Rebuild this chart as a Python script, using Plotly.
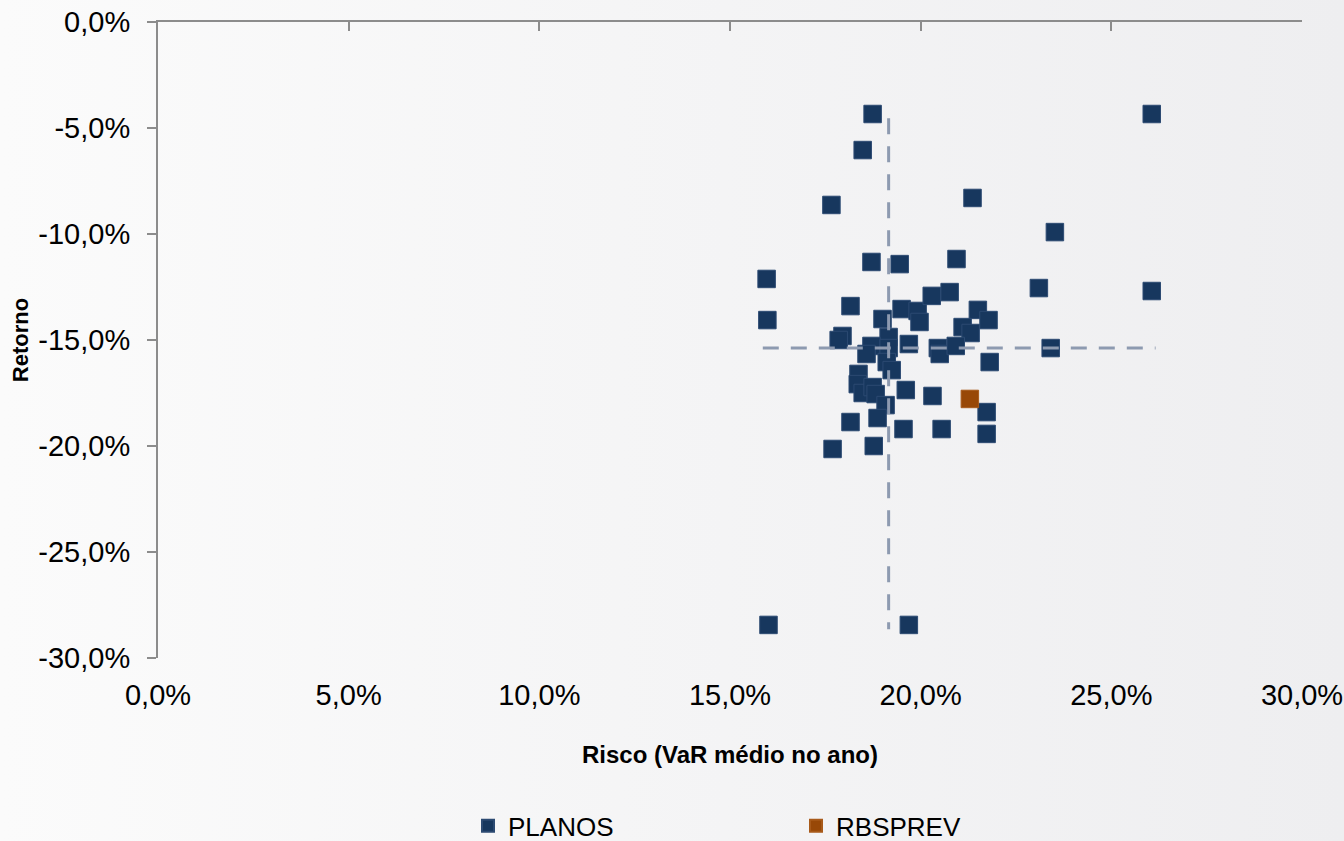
import base64
import plotly.graph_objects as go

# ---- Data (percent units) ----
planos_risco = [
    18.74, 26.06, 18.48, 17.66, 21.36, 23.52, 15.96, 18.71, 19.45, 20.94,
    23.10, 26.06, 15.98, 23.41, 16.01, 19.69, 17.69, 18.77,
    18.16, 19.00, 19.50, 19.92, 19.97, 20.29, 20.76, 21.50, 21.78, 21.10,
    21.31, 17.95, 17.85, 19.16, 18.71, 18.58, 19.16, 19.69, 20.45, 20.50,
    20.92, 21.81, 19.11, 19.24, 18.37, 18.35, 18.48, 18.74, 18.82, 19.08,
    18.87, 19.61, 20.31, 21.73, 18.16, 19.55, 20.55, 21.73,
]
planos_retorno = [
    -4.34, -4.34, -6.04, -8.63, -8.30, -9.91, -12.12, -11.32, -11.42, -11.18,
    -12.55, -12.69, -14.06, -15.38, -28.44, -28.44, -20.14, -20.00,
    -13.40, -14.01, -13.54, -13.63, -14.15, -12.92, -12.74, -13.58, -14.06, -14.39,
    -14.67, -14.81, -15.00, -14.86, -15.28, -15.66, -15.38, -15.19, -15.38, -15.66,
    -15.28, -16.04, -16.04, -16.42, -16.60, -17.08, -17.50, -17.22, -17.55, -18.07,
    -18.68, -17.36, -17.64, -18.40, -18.87, -19.20, -19.20, -19.43,
]
rbsprev_risco = [21.29]
rbsprev_retorno = [-17.78]

risco_medio = 19.16
retorno_medio = -15.38

x_ticks = [0, 5, 10, 15, 20, 25, 30]
x_tick_labels = ["0,0%", "5,0%", "10,0%", "15,0%", "20,0%", "25,0%", "30,0%"]
y_ticks = [0, -5, -10, -15, -20, -25, -30]
y_tick_labels = ["0,0%", "-5,0%", "-10,0%", "-15,0%", "-20,0%", "-25,0%", "-30,0%"]

FONT = "Arial, Liberation Sans, sans-serif"
NAVY = "#17375e"
ORANGE = "#984807"
AXIS = "#8c8c8c"
DASH = "#8d9ab0"

W, H = 1344, 841
ML, MR, MT, MB = 158, 42, 22, 183
PW, PH = W - ML - MR, H - MT - MB

# subtle horizontal background gradient
svg = (
    '<svg xmlns="http://www.w3.org/2000/svg" width="1344" height="841" '
    'preserveAspectRatio="none">'
    '<defs><linearGradient id="g" x1="0" y1="0" x2="1" y2="0">'
    '<stop offset="0" stop-color="#fbfbfb"/>'
    '<stop offset="1" stop-color="#eeeef0"/>'
    '</linearGradient></defs>'
    '<rect width="1344" height="841" fill="url(#g)"/></svg>'
)
bg_src = "data:image/svg+xml;base64," + base64.b64encode(svg.encode()).decode()

fig = go.Figure()

# mean lines (dashed)
fig.add_trace(go.Scatter(
    x=[risco_medio, risco_medio],
    y=[max(planos_retorno) - 0.2, min(planos_retorno) - 0.2],
    xaxis="x2",
    mode="lines", line=dict(color=DASH, width=3, dash="16px,12px"),
    showlegend=False, hoverinfo="skip"))
fig.add_trace(go.Scatter(
    x=[min(planos_risco) - 0.1, max(planos_risco) + 0.1],
    y=[retorno_medio, retorno_medio],
    xaxis="x2",
    mode="lines", line=dict(color=DASH, width=3, dash="16px,12px"),
    showlegend=False, hoverinfo="skip"))

fig.add_trace(go.Scatter(
    x=planos_risco, y=planos_retorno, mode="markers", name="PLANOS",
    marker=dict(symbol="square", size=17.5, color=NAVY,
                line=dict(color="#2c4a72", width=1))))
fig.add_trace(go.Scatter(
    x=rbsprev_risco, y=rbsprev_retorno, mode="markers", name="RBSPREV",
    marker=dict(symbol="square", size=17.5, color=ORANGE,
                line=dict(color="#a85a1a", width=1))))

tick_font = dict(family=FONT, size=29, color="#000000")

fig.update_layout(
    width=W, height=H,
    margin=dict(l=ML, r=MR, t=MT, b=MB, autoexpand=False),
    paper_bgcolor="#f5f5f6",
    plot_bgcolor="rgba(0,0,0,0)",
    font=dict(family=FONT, color="#000000"),
    images=[dict(
        source=bg_src, xref="paper", yref="paper",
        x=-ML / PW, y=1 + MT / PH, sizex=W / PW, sizey=H / PH,
        xanchor="left", yanchor="top", sizing="stretch", layer="below",
    )],
    xaxis=dict(
        range=[0, 30], tickvals=x_ticks, ticktext=x_tick_labels,
        showline=False, showgrid=False, zeroline=False, ticks="",
        tickfont=tick_font, ticklabelstandoff=17, automargin=False,
        title=dict(text="<b>Risco (VaR médio no ano)</b>",
                   font=dict(family=FONT, size=24), standoff=36),
    ),
    xaxis2=dict(
        range=[0, 30], tickvals=x_ticks, overlaying="x", side="top", anchor="y",
        showline=True, linecolor=AXIS, linewidth=2, ticks="inside",
        ticklen=9, tickwidth=2, tickcolor=AXIS, showticklabels=False,
        showgrid=False, zeroline=False, automargin=False,
    ),
    yaxis=dict(
        range=[-30, 0], tickvals=y_ticks, ticktext=y_tick_labels,
        showline=True, linecolor=AXIS, linewidth=2, ticks="outside",
        ticklen=9, tickwidth=2, tickcolor=AXIS, showgrid=False, zeroline=False,
        tickfont=tick_font, ticklabelstandoff=11, automargin=False,
        title=dict(text="<b>Retorno</b>", font=dict(family=FONT, size=22),
                   standoff=4),
    ),
    legend=dict(
        orientation="h", x=0.271, xanchor="left", y=-0.264, yanchor="middle",
        font=dict(family=FONT, size=26), entrywidth=283, entrywidthmode="pixels",
        bgcolor="rgba(0,0,0,0)", itemsizing="constant",
    ),
    showlegend=True,
)

fig.write_html(
    "out.html",
    config={"displayModeBar": False},
    post_script="document.body.style.margin='0';document.body.style.padding='0';"
                "document.documentElement.style.overflow='hidden';",
)
